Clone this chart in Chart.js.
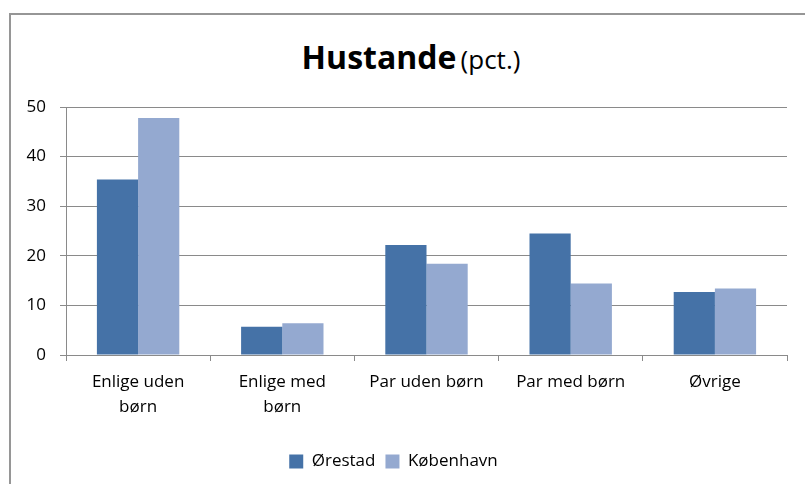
<!DOCTYPE html>
<html>
<head>
<meta charset="utf-8">
<script src="https://cdn.jsdelivr.net/npm/chart.js@4"></script>
<style>
    html, body { margin: 0; padding: 0; background: #fff; overflow: hidden; }
    #wrap { position: relative; width: 805px; height: 484px; overflow: hidden; }
    .frame {
        position: absolute; left: 9px; top: 13px; width: 820px; height: 500px;
        border: 2px solid #969696; box-sizing: border-box;
    }
    .title {
        position: absolute; left: 0; width: 822px; top: 35px; text-align: center;
        font-family: "Open Sans", sans-serif; color: #000; line-height: 44px;
    }
    .title b { font-size: 32px; font-weight: 700; }
    .title span { font-size: 26px; }
    canvas { position: absolute; left: 0; top: 0; }
</style>
</head>
<body>
<div id="wrap">
    <div class="frame"></div>
    <div class="title"><b>Hustande</b> <span>(pct.)</span></div>
    <canvas id="chart" width="805" height="484"></canvas>
</div>
<script>
const categories = [["Enlige uden", "børn"], ["Enlige med", "børn"], "Par uden børn", "Par med børn", "Øvrige"];
const orestad = [35.4, 5.7, 22.2, 24.5, 12.7];
const kobenhavn = [47.8, 6.4, 18.4, 14.4, 13.4];
const yTicks = [0, 10, 20, 30, 40, 50];

const FONT = "'Open Sans', sans-serif";
const GRID = "#8a8a8a";

const ctx = document.getElementById("chart").getContext("2d");

new Chart(ctx, {
    type: "bar",
    data: {
        labels: categories,
        datasets: [
            { label: "Ørestad", data: orestad, backgroundColor: "#4572a7" },
            { label: "København", data: kobenhavn, backgroundColor: "#94a9d0" }
        ]
    },
    options: {
        responsive: false,
        animation: false,
        layout: { padding: { top: 107, right: 18, bottom: 4, left: 0 } },
        datasets: {
            bar: { categoryPercentage: 2 / 3.5, barPercentage: 1 }
        },
        plugins: {
            title: { display: false },
            tooltip: { enabled: false },
            legend: {
                position: "bottom",
                labels: {
                    boxWidth: 14,
                    boxHeight: 14,
                    padding: 10,
                    color: "#000",
                    font: { family: FONT, size: 17 }
                }
            }
        },
        scales: {
            x: {
                grid: { drawOnChartArea: false, color: GRID, tickLength: 6 },
                border: { color: GRID },
                ticks: {
                    color: "#000",
                    maxRotation: 0,
                    autoSkip: false,
                    padding: 9,
                    font: { family: FONT, size: 17, lineHeight: 1.45 }
                },
                afterFit: (scale) => { scale.height = 88; }
            },
            y: {
                min: 0,
                max: 50,
                afterBuildTicks: (scale) => { scale.ticks = yTicks.map(v => ({ value: v })); },
                grid: { color: GRID, tickLength: 6 },
                border: { color: GRID },
                ticks: {
                    color: "#000",
                    padding: 14,
                    font: { family: FONT, size: 17 }
                },
                afterFit: (scale) => { scale.width = 66; }
            }
        }
    }
});
</script>
</body>
</html>
